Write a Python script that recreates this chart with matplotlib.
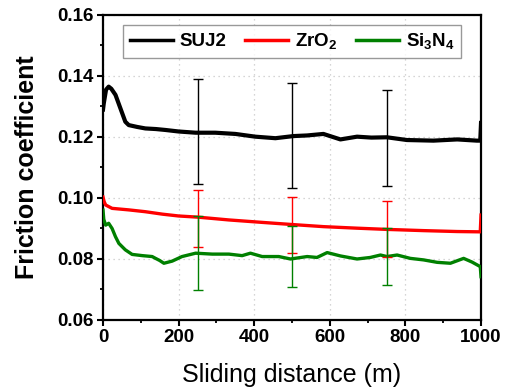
import matplotlib
matplotlib.use("Agg")
import matplotlib.pyplot as plt
from matplotlib.ticker import MultipleLocator

plt.rcParams['font.family'] = ['Liberation Sans', 'DejaVu Sans']
plt.rcParams['mathtext.fontset'] = 'custom'
plt.rcParams['mathtext.rm'] = 'Liberation Sans:bold'
plt.rcParams['mathtext.default'] = 'rm'

# ---- data ----
suj2_x = [0, 2, 8, 15, 22, 33, 46, 59, 68, 90, 112, 140, 165, 200, 245, 297, 350, 403,
          456, 504, 540, 583, 628, 672, 710, 751, 804, 874, 937, 989, 998, 1000]
suj2_y = [0.129, 0.131, 0.1355, 0.1365, 0.1358, 0.1338, 0.1294, 0.125, 0.1239, 0.1233,
          0.1228, 0.1226, 0.1223, 0.1218, 0.1214, 0.1214, 0.121, 0.1201, 0.1196, 0.1203,
          0.1205, 0.121, 0.1192, 0.1201, 0.1198, 0.1199, 0.119, 0.1188, 0.1192, 0.1188,
          0.1188, 0.1246]

zro2_x = [0, 3, 7, 24, 68, 112, 157, 200, 253, 333, 421, 500, 584, 672, 751, 848, 937, 998, 1000]
zro2_y = [0.1003, 0.0988, 0.0977, 0.0966, 0.0961, 0.0955, 0.0947, 0.0941, 0.0937, 0.0928,
          0.0920, 0.0913, 0.0906, 0.0901, 0.0897, 0.0893, 0.0890, 0.0889, 0.0944]

si3n4_x = [0, 2, 7, 15, 24, 33, 42, 59, 77, 104, 130, 139, 150, 161, 183, 209, 245, 289,
           333, 368, 390, 421, 465, 496, 540, 566, 593, 628, 672, 707, 734, 751, 778, 813,
           848, 884, 919, 954, 976, 998, 1000]
si3n4_y = [0.096, 0.093, 0.0911, 0.0917, 0.090, 0.0873, 0.0851, 0.083, 0.0815, 0.0811,
           0.0808, 0.0802, 0.0795, 0.0786, 0.0793, 0.0808, 0.0819, 0.0816, 0.0816, 0.0811,
           0.0819, 0.0808, 0.0808, 0.080, 0.0808, 0.0805, 0.0821, 0.081, 0.080, 0.0805,
           0.0813, 0.0808, 0.0813, 0.0802, 0.0797, 0.0789, 0.0786, 0.0802, 0.079, 0.0775,
           0.0742]

err_x = [250, 500, 750]
suj2_mean = [0.1218, 0.1205, 0.1197]
suj2_err = [0.0172, 0.0172, 0.0158]
zro2_mean = [0.0933, 0.0911, 0.0899]
zro2_err = [0.0093, 0.0092, 0.0091]
si3n4_mean = [0.0820, 0.0808, 0.0808]
si3n4_err = [0.0122, 0.0099, 0.0093]

labels = ['SUJ2', 'ZrO$_2$', 'Si$_3$N$_4$']
colors = ['black', '#ff0000', '#008000']

# ---- figure ----
fig = plt.figure(figsize=(5.12, 3.92), dpi=100)
ax = fig.add_axes([0.2012, 0.1837, 0.7383, 0.7781])

ax.plot(suj2_x, suj2_y, color=colors[0], lw=3.0, label=labels[0], zorder=3)
ax.plot(zro2_x, zro2_y, color=colors[1], lw=2.4, label=labels[1], zorder=3)
ax.plot(si3n4_x, si3n4_y, color=colors[2], lw=2.4, label=labels[2], zorder=3)

ax.errorbar(err_x, suj2_mean, yerr=suj2_err, fmt='none', ecolor=colors[0],
            elinewidth=1.0, capsize=3.5, capthick=1.0, zorder=4)
ax.errorbar(err_x, zro2_mean, yerr=zro2_err, fmt='none', ecolor=colors[1],
            elinewidth=1.0, capsize=3.5, capthick=1.0, zorder=4)
ax.errorbar(err_x, si3n4_mean, yerr=si3n4_err, fmt='none', ecolor=colors[2],
            elinewidth=1.0, capsize=3.5, capthick=1.0, zorder=4)

ax.set_xlim(0, 1000)
ax.set_ylim(0.06, 0.16)
ax.xaxis.set_major_locator(MultipleLocator(200))
ax.xaxis.set_minor_locator(MultipleLocator(100))
ax.yaxis.set_major_locator(MultipleLocator(0.02))
ax.yaxis.set_minor_locator(MultipleLocator(0.01))
ax.set_yticklabels([f"{v:.2f}" for v in ax.get_yticks()])

ax.grid(True, which='major', color='#c8c8c8', linestyle=(0, (1, 3)), linewidth=0.9, zorder=0)
ax.set_axisbelow(True)

for s in ax.spines.values():
    s.set_linewidth(1.6)

ax.tick_params(which='major', direction='out', length=4, width=1.5, labelsize=13.5, pad=2.5)
ax.tick_params(which='minor', direction='out', length=2, width=1.3)
ax.tick_params(top=False, right=False, which='both')
for lab in ax.get_xticklabels() + ax.get_yticklabels():
    lab.set_fontweight('bold')

ax.set_xlabel('Sliding distance (m)', fontsize=18)
ax.set_ylabel('Friction coefficient', fontsize=18, fontweight='bold')
ax.xaxis.set_label_coords(0.5, -0.14)
ax.yaxis.set_label_coords(-0.17, 0.5)

leg = ax.legend(loc='upper center', bbox_to_anchor=(0.5, 0.968), borderaxespad=0.0, ncol=3,
                frameon=True, fancybox=False, edgecolor='#808080', handlelength=2.3,
                handletextpad=0.35, columnspacing=1.0, borderpad=0.35,
                prop={'weight': 'bold', 'size': 13.5})
leg.get_frame().set_linewidth(1.0)
for line in leg.get_lines():
    line.set_linewidth(2.5)

fig.savefig('out.png', dpi=100)
